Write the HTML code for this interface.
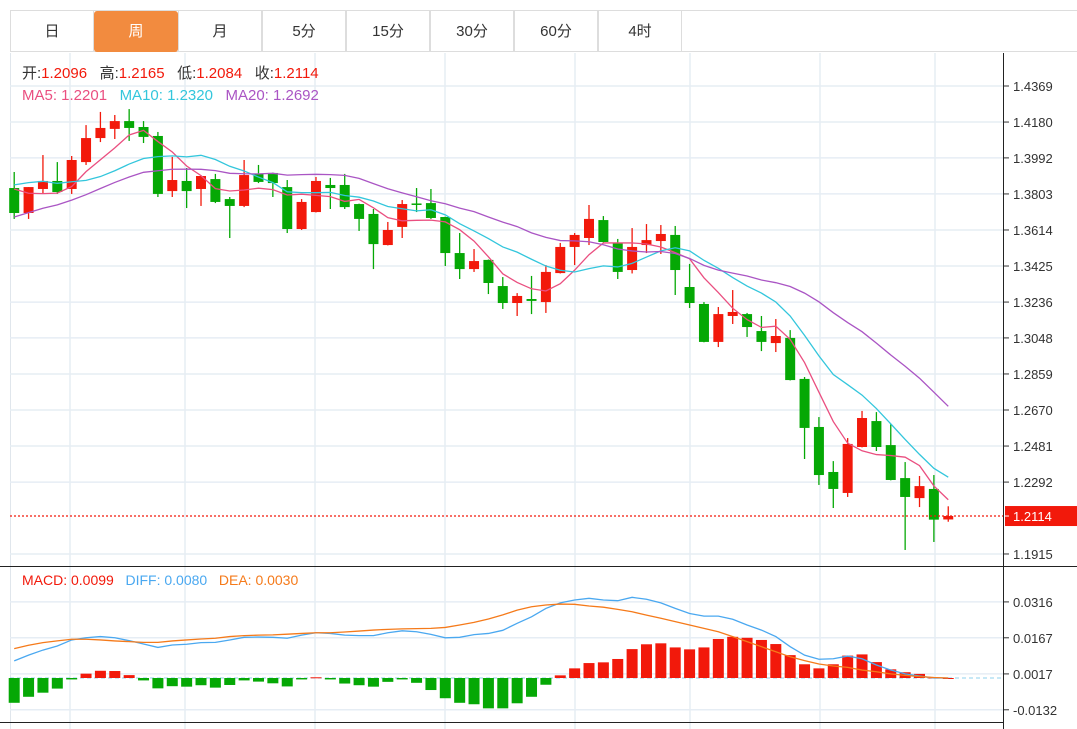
<!DOCTYPE html>
<html><head><meta charset="utf-8">
<style>
body{margin:0;background:#fff;width:1077px;height:729px;overflow:hidden;font-family:"Liberation Sans","Noto Sans CJK SC",sans-serif;}
#tabs{position:absolute;left:10px;top:10px;height:42px;width:1067px;border-top:1px solid #ddd;border-bottom:1px solid #ddd;box-sizing:border-box;}
.tab{position:absolute;top:0;height:41px;width:84px;border-right:1px solid #ddd;border-left:1px solid #ddd;box-sizing:border-box;text-align:center;line-height:41px;font-size:15px;color:#333;}
.tab.on{background:#f28b3f;color:#fff;border-radius:3px;border-color:#f28b3f;}
svg{position:absolute;left:0;top:0;}
</style></head><body>
<div id="tabs">
<div class="tab" style="left:0">日</div>
<div class="tab on" style="left:84px">周</div>
<div class="tab" style="left:168px">月</div>
<div class="tab" style="left:252px">5分</div>
<div class="tab" style="left:336px">15分</div>
<div class="tab" style="left:420px">30分</div>
<div class="tab" style="left:504px">60分</div>
<div class="tab" style="left:588px">4时</div>
</div>
<svg id="chart" width="1077" height="729" style="top:0"></svg>
<script>
const opens=[1.3834,1.3703,1.3829,1.3871,1.3829,1.3970,1.4096,1.4144,1.4185,1.4154,1.4107,1.3818,1.3871,1.3829,1.3881,1.3776,1.3740,1.3908,1.3913,1.3839,1.3619,1.3708,1.3850,1.3850,1.3750,1.3698,1.3535,1.3630,1.3753,1.3755,1.3682,1.3493,1.3409,1.3457,1.3320,1.3231,1.3252,1.3236,1.3388,1.3525,1.3572,1.3666,1.3546,1.3404,1.3535,1.3556,1.3588,1.3315,1.3226,1.3027,1.3163,1.3173,1.3084,1.3021,1.3048,1.2833,1.2581,1.2345,1.2235,1.2476,1.2612,1.2486,1.2313,1.2208,1.2256,1.2096];
const closes=[1.3703,1.3839,1.3871,1.3813,1.3981,1.4096,1.4149,1.4185,1.4149,1.4102,1.3803,1.3876,1.3818,1.3897,1.3761,1.3740,1.3902,1.3866,1.3860,1.3619,1.3761,1.3871,1.3834,1.3734,1.3672,1.3540,1.3614,1.3750,1.3748,1.3677,1.3493,1.3409,1.3451,1.3336,1.3231,1.3268,1.3242,1.3394,1.3525,1.3588,1.3672,1.3551,1.3394,1.3525,1.3561,1.3593,1.3404,1.3231,1.3027,1.3173,1.3184,1.3105,1.3027,1.3058,1.2827,1.2576,1.2329,1.2256,1.2492,1.2628,1.2476,1.2303,1.2214,1.2271,1.2095,1.2114];
const highs=[1.3918,1.3839,1.4007,1.3970,1.4002,1.4164,1.4233,1.4217,1.4248,1.4185,1.4128,1.3997,1.3939,1.3899,1.3908,1.3787,1.3981,1.3955,1.3915,1.3876,1.3776,1.3892,1.3887,1.3908,1.3752,1.3724,1.3656,1.3771,1.3834,1.3829,1.3684,1.3598,1.3514,1.3459,1.3367,1.3283,1.3373,1.3430,1.3546,1.3598,1.3745,1.3687,1.3567,1.3624,1.3645,1.3640,1.3635,1.3436,1.3236,1.3210,1.3299,1.3179,1.3163,1.3147,1.3089,1.2843,1.2633,1.2402,1.2523,1.2665,1.2659,1.2597,1.2397,1.2324,1.2329,1.2165];
const lows=[1.3672,1.3672,1.3808,1.3803,1.3803,1.3955,1.4075,1.4091,1.4081,1.4070,1.3787,1.3787,1.3729,1.3740,1.3755,1.3572,1.3734,1.3860,1.3787,1.3598,1.3614,1.3706,1.3724,1.3724,1.3609,1.3409,1.3533,1.3572,1.3708,1.3672,1.3425,1.3357,1.3394,1.3278,1.3200,1.3163,1.3173,1.3179,1.3386,1.3430,1.3535,1.3549,1.3357,1.3386,1.3493,1.3488,1.3273,1.3205,1.3025,1.3000,1.3121,1.3053,1.2979,1.2974,1.2825,1.2413,1.2277,1.2156,1.2214,1.2474,1.2455,1.2301,1.1936,1.2161,1.1978,1.2084];
const priorCloses=[1.338,1.342,1.345,1.349,1.352,1.350,1.355,1.358,1.361,1.364,1.372,1.380,1.392,1.390,1.402,1.395,1.388,1.380,1.381];
const macdHist=[-0.0103,-0.0078,-0.0061,-0.0044,-0.0006,0.0018,0.0030,0.0029,0.0012,-0.0010,-0.0043,-0.0034,-0.0036,-0.0030,-0.0040,-0.0029,-0.0010,-0.0015,-0.0022,-0.0035,-0.0006,0.0003,-0.0006,-0.0023,-0.0030,-0.0036,-0.0016,-0.0006,-0.0020,-0.0050,-0.0084,-0.0103,-0.0109,-0.0126,-0.0126,-0.0105,-0.0078,-0.0028,0.0011,0.0040,0.0062,0.0065,0.0079,0.0120,0.0140,0.0144,0.0127,0.0119,0.0127,0.0162,0.0171,0.0167,0.0158,0.0141,0.0095,0.0057,0.0040,0.0057,0.0093,0.0098,0.0066,0.0036,0.0024,0.0017,0.0002,0.0000];
const diffLine=[0.0071,0.0095,0.0116,0.0133,0.0158,0.0167,0.0172,0.0167,0.0155,0.0141,0.0127,0.0137,0.0140,0.0147,0.0148,0.0158,0.0169,0.0170,0.0169,0.0165,0.0178,0.0188,0.0185,0.0178,0.0176,0.0176,0.0188,0.0196,0.0192,0.0181,0.0167,0.0169,0.0180,0.0185,0.0198,0.0227,0.0254,0.0289,0.0312,0.0324,0.0331,0.0324,0.0321,0.0335,0.0327,0.0312,0.0289,0.0268,0.0257,0.0257,0.0244,0.0220,0.0199,0.0172,0.0130,0.0095,0.0078,0.0080,0.0091,0.0080,0.0054,0.0033,0.0017,0.0008,0.0000,0.0000];
const deaLine=[0.0122,0.0136,0.0147,0.0154,0.0161,0.0161,0.0158,0.0154,0.0151,0.0148,0.0148,0.0154,0.0158,0.0162,0.0165,0.0172,0.0176,0.0178,0.0179,0.0182,0.0185,0.0188,0.0188,0.0191,0.0195,0.0199,0.0202,0.0204,0.0205,0.0206,0.0210,0.0220,0.0231,0.0245,0.0262,0.0282,0.0296,0.0303,0.0307,0.0306,0.0299,0.0294,0.0285,0.0275,0.0261,0.0248,0.0234,0.0220,0.0206,0.0192,0.0172,0.0151,0.0130,0.0109,0.0088,0.0072,0.0058,0.0050,0.0044,0.0033,0.0026,0.0017,0.0011,0.0006,0.0002,0.0000];
const priceTicks=[1.4369,1.4180,1.3992,1.3803,1.3614,1.3425,1.3236,1.3048,1.2859,1.2670,1.2481,1.2292,1.2103,1.1915];
const priceTickLabels=["1.4369","1.4180","1.3992","1.3803","1.3614","1.3425","1.3236","1.3048","1.2859","1.2670","1.2481","1.2292","","1.1915"];
const macdTicks=[0.0316,0.0167,0.0017,-0.0132];
const macdTickLabels=["0.0316","0.0167","0.0017","-0.0132"];
const lastPrice=1.2114;

const NS='http://www.w3.org/2000/svg';
const svg=document.getElementById('chart');
function mk(tag,attrs,parent){const e=document.createElementNS(NS,tag);for(const k in attrs)e.setAttribute(k,attrs[k]);(parent||svg).appendChild(e);return e;}
const yP=v=>86+(1.4369-v)*1907;
const yM=v=>678-v*2408;
const xC=i=>14.2+i*14.37;

// grids
const vgx=[70,185,315,445,575,690,820,935];
vgx.forEach(x=>{const l=mk('line',{x1:x,x2:x,y1:53,y2:729,stroke:'#e6edf4','stroke-width':1.5});

});
mk('line',{x1:10.5,x2:10.5,y1:53,y2:729,stroke:'#e0e6ec','stroke-width':1});
priceTicks.forEach((v,i)=>{const y=yP(v);
 if(priceTickLabels[i]!==''){const g=mk('line',{x1:10,x2:1003,y1:y,y2:y,stroke:'#e6edf4','stroke-width':1.5});
 
 
 mk('line',{x1:1004,x2:1009,y1:y,y2:y,stroke:'#333'});
 const t=mk('text',{x:1013,y:y+5,'font-size':13,fill:'#333'});t.textContent=priceTickLabels[i];
 
 }
});
macdTicks.forEach((v,i)=>{const y=yM(v);
 const g=mk('line',{x1:10,x2:1003,y1:y,y2:y,stroke:'#e6edf4','stroke-width':1.5});
 
 
 mk('line',{x1:1004,x2:1009,y1:y,y2:y,stroke:'#333'});
 const t=mk('text',{x:1013,y:y+5,'font-size':13,fill:'#333'});t.textContent=macdTickLabels[i];
 
 });
mk('line',{x1:1003.5,x2:1003.5,y1:53,y2:729,stroke:'#222','stroke-width':1});
mk('line',{x1:0,x2:1077,y1:566.5,y2:566.5,stroke:'#222','stroke-width':1});
mk('line',{x1:0,x2:1003,y1:722.5,y2:722.5,stroke:'#222','stroke-width':1});

// candles
const cw=10;
opens.forEach((o,i)=>{const c=closes[i],up=c>=o,col=up?'#f2190b':'#05a805';const x=xC(i);
 const g=mk('g',{});
 
 
 mk('line',{x1:x,x2:x,y1:yP(highs[i]),y2:yP(lows[i]),stroke:col,'stroke-width':1.3},g);
 const t=Math.min(yP(o),yP(c)),h=Math.max(1.5,Math.abs(yP(o)-yP(c)));
 mk('rect',{x:x-cw/2,y:t,width:cw,height:h,fill:col},g);});

// MAs
const all=priorCloses.concat(closes),P=priorCloses.length;
function ma(n){return closes.map((_,i)=>{let s=0;for(let k=0;k<n;k++)s+=all[P+i-k];return s/n;});}
[[5,'#ea4f80','ma5-line'],[10,'#33c6dc','ma10-line'],[20,'#aa55c4','ma20-line']].forEach(([n,col,name])=>{
 const v=ma(n);const p=mk('polyline',{points:v.map((m,i)=>xC(i)+','+yP(m)).join(' '),fill:'none',stroke:col,'stroke-width':1.3});
 
 });

// last price line
const ly=yP(lastPrice);
mk('line',{x1:10,x2:1003,y1:ly,y2:ly,stroke:'#f2190b','stroke-dasharray':'2,2','stroke-width':1.2});
const lb=mk('rect',{x:1005,y:ly-10,width:72,height:20,fill:'#f2190b'});


mk('line',{x1:1004,x2:1009,y1:ly,y2:ly,stroke:'#fff'});
const lt=mk('text',{x:1013,y:ly+5,'font-size':13,fill:'#fff'});lt.textContent=lastPrice.toFixed(4);

// MACD
mk('line',{x1:10,x2:1003,y1:yM(0),y2:yM(0),stroke:'#8fd0ee','stroke-dasharray':'4,3','stroke-width':1});
macdHist.forEach((v,i)=>{const x=xC(i),y0=yM(0),y1=yM(v);
 const r=mk('rect',{x:x-5.5,y:Math.min(y0,y1),width:11,height:Math.max(1,Math.abs(y1-y0)),fill:v>=0?'#f2190b':'#05a805'});
 
 });
[[diffLine,'#4aa8f0','diff-line'],[deaLine,'#f57a1a','dea-line']].forEach(([arr,col,name])=>{
 const p=mk('polyline',{points:arr.map((v,i)=>xC(i)+','+yM(v)).join(' '),fill:'none',stroke:col,'stroke-width':1.3});
 
 });

// header texts
function txt(x,y,parts,name){const t=mk('text',{x:x,y:y,'font-size':15});
 parts.forEach(([s,c])=>{const ts=mk('tspan',{fill:c},t);ts.textContent=s;});}
txt(22,78,[['开:','#333'],['1.2096','#f2190b'],['   高:','#333'],['1.2165','#f2190b'],['   低:','#333'],['1.2084','#f2190b'],['   收:','#333'],['1.2114','#f2190b']],'ohlc-legend');
const ohlc=svg.lastChild;ohlc.setAttribute('xml:space','preserve');ohlc.style.whiteSpace='pre';
txt(22,100,[['MA5: 1.2201','#ea4f80'],['   MA10: 1.2320','#33c6dc'],['   MA20: 1.2692','#aa55c4']],'ma-legend');
svg.lastChild.style.whiteSpace='pre';
const mt=mk('text',{x:22,y:585,'font-size':14});mt.style.whiteSpace='pre';


[['MACD: 0.0099','#f2190b'],['   DIFF: 0.0080','#4aa8f0'],['   DEA: 0.0030','#f57a1a']].forEach(([s,c])=>{const ts=mk('tspan',{fill:c},mt);ts.textContent=s;});
</script>
</body></html>
